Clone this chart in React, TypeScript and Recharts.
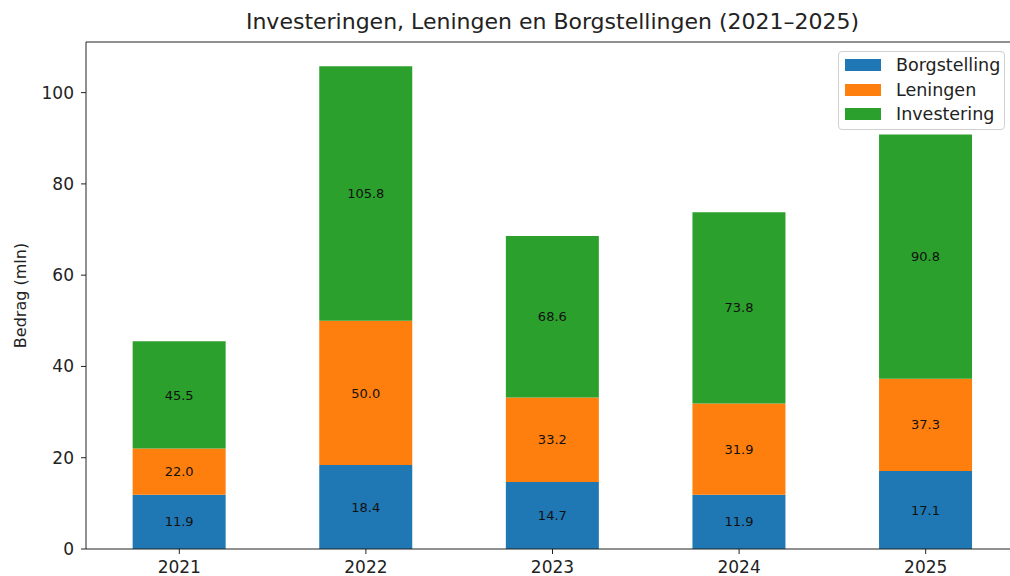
import { BarChart, Bar, XAxis, YAxis, LabelList, ReferenceLine } from "recharts";

const years = ["2021", "2022", "2023", "2024", "2025"];
// values as printed on the bars (running totals)
const borgstelling = [11.9, 18.4, 14.7, 11.9, 17.1];
const leningenTop = [22.0, 50.0, 33.2, 31.9, 37.3];
const investeringTop = [45.5, 105.8, 68.6, 73.8, 90.8];
const yTicks = [0, 20, 40, 60, 80, 100];

const colors = { borg: "#1f77b4", len: "#ff7f0e", inv: "#2ca02c" };
const font = "DejaVu Sans, sans-serif";
const yMax = 111.09;

const data = years.map((year, i) => ({
  year,
  borg: borgstelling[i],
  len: +(leningenTop[i] - borgstelling[i]).toFixed(1),
  inv: +(investeringTop[i] - leningenTop[i]).toFixed(1),
  borgLabel: borgstelling[i],
  lenLabel: leningenTop[i],
  invLabel: investeringTop[i],
}));

const legendItems = [
  { name: "Borgstelling", color: colors.borg },
  { name: "Leningen", color: colors.len },
  { name: "Investering", color: colors.inv },
];

function LegendBox() {
  return (
    <div
      style={{
        position: "absolute",
        left: 838,
        top: 51,
        width: 167,
        height: 79,
        border: "1px solid #d0d0d0",
        borderRadius: 4,
        background: "rgba(255,255,255,0.8)",
        boxSizing: "border-box",
        paddingTop: 1,
        fontFamily: font,
        fontSize: 17.5,
        color: "#222",
      }}
    >
      {legendItems.map((item) => (
        <div key={item.name} style={{ display: "flex", alignItems: "center", height: 24.5 }}>
          <span style={{ width: 36, height: 12, marginLeft: 6, marginRight: 15, background: item.color }} />
          <span>{item.name}</span>
        </div>
      ))}
    </div>
  );
}

const fmt = (v: any) => Number(v).toFixed(1);
const labelStyle = { fontFamily: font, fontSize: 13, fill: "#111" };

export default function App() {
  return (
    <div style={{ position: "absolute", left: 0, top: 0, width: 1010, height: 576, overflow: "hidden", background: "#fff" }}>
      <div
        style={{
          position: "absolute",
          left: 86,
          width: 933,
          top: 9,
          textAlign: "center",
          fontFamily: font,
          fontSize: 22,
          color: "#222",
        }}
      >
        Investeringen, Leningen en Borgstellingen (2021–2025)
      </div>
      <BarChart
        width={1040}
        height={576}
        data={data}
        margin={{ top: 42, right: 21, bottom: 0, left: 0 }}
        barCategoryGap="25%"
      >
        <XAxis
          dataKey="year"
          height={27}
          stroke="#222"
          tickSize={5}
          tick={{ fill: "#222", fontFamily: font, fontSize: 17, dy: 5 }}
        />
        <YAxis
          width={86}
          domain={[0, yMax]}
          ticks={yTicks}
          stroke="#222"
          tickSize={5}
          tick={{ fill: "#222", fontFamily: font, fontSize: 17, dx: -5 }}
          label={{
            content: (props: any) => {
              const vb = props.viewBox || {};
              const cx = 20;
              const cy = (vb.y ?? 42) + (vb.height ?? 507) / 2;
              return (
                <text
                  x={cx}
                  y={cy}
                  transform={`rotate(-90 ${cx} ${cy})`}
                  textAnchor="middle"
                  dominantBaseline="central"
                  fontFamily={font}
                  fontSize={16}
                  fill="#222"
                >
                  Bedrag (mln)
                </text>
              );
            },
          }}
        />
        <ReferenceLine y={yMax} stroke="#222" strokeWidth={1} />
        <Bar dataKey="borg" name="Borgstelling" stackId="a" fill={colors.borg} isAnimationActive={false}>
          <LabelList dataKey="borgLabel" position="center" formatter={fmt} style={labelStyle} />
        </Bar>
        <Bar dataKey="len" name="Leningen" stackId="a" fill={colors.len} isAnimationActive={false}>
          <LabelList dataKey="lenLabel" position="center" formatter={fmt} style={labelStyle} />
        </Bar>
        <Bar dataKey="inv" name="Investering" stackId="a" fill={colors.inv} isAnimationActive={false}>
          <LabelList dataKey="invLabel" position="center" formatter={fmt} style={labelStyle} />
        </Bar>
      </BarChart>
      <LegendBox />
    </div>
  );
}
